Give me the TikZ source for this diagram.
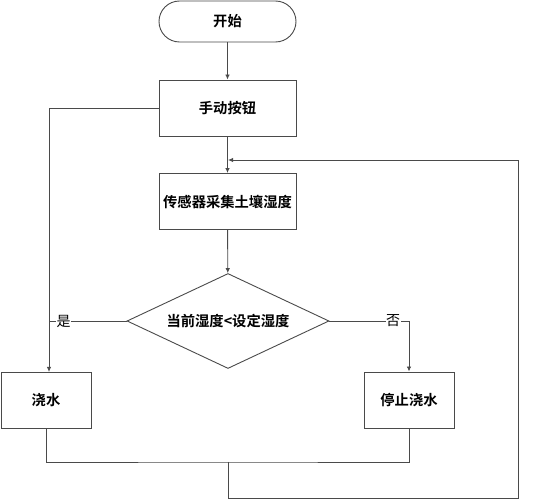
\documentclass[tikz,border=0pt]{standalone}
\usepackage{fontspec}
\setmainfont{Noto Sans CJK SC}[BoldFont={Noto Sans CJK SC Bold}]
\usetikzlibrary{shapes.geometric,arrows.meta,calc}
\definecolor{ln}{HTML}{4A4A4A}
\tikzset{
  box/.style={draw=ln,line width=0.9pt,rectangle,minimum width=137pt,minimum height=56pt,inner sep=0pt,font=\fontsize{14.3}{16}\selectfont\bfseries},
  smallbox/.style={box,minimum width=90pt},
  term/.style={box,rounded corners=20.5pt,minimum height=41pt},
  dec/.style={draw=ln,line width=0.9pt,diamond,minimum width=202pt,minimum height=95pt,inner sep=0pt,font=\fontsize{14.3}{16}\selectfont\bfseries},
  conn/.style={draw=ln,line width=0.9pt},
  arr/.style={conn,-{Latex[length=5pt,width=4.5pt]}},
  lab/.style={fill=white,inner sep=0.5pt,font=\fontsize{14}{16}\selectfont}
}
\begin{document}
\begin{tikzpicture}[x=1pt,y=-1pt]
\useasboundingbox (0,0) rectangle (542,500);
\node[term] (start) at (227.5,21.5) {开始};
\node[box] (btn) at (227.5,108) {手动按钮};
\node[box] (sensor) at (227.5,201.5) {传感器采集土壤湿度};
\node[dec] (dec) at (228,321) {\makebox[0pt]{当前湿度<设定湿度}};
\node[smallbox] (water) at (46,400) {浇水};
\node[smallbox] (stop) at (409,400) {停止浇水};
\coordinate (wl) at (49,108);
\coordinate (wt) at (49,372);
\coordinate (join) at (228,462);
\coordinate (bl) at (228,498);
\coordinate (br) at (518,498);
\coordinate (tr) at (518,160);
\coordinate (loopin) at (228,160);
\draw[arr] (start) -- (btn);
\draw[arr] (btn) -- (sensor);
\draw[arr] (sensor) -- (dec);
\draw[arr] (btn.west) -- (wl) -- (wt);
\draw[conn] (dec.west) -- node[lab,pos=0.81]{是} (dec.west -| wl);
\draw[arr] (dec.east) -| node[lab,pos=0.4]{否} (stop.north);
\draw[conn] (water.south) |- (join) -| (stop.south);
\draw[arr] (join) -- (bl) -- (br) -- (tr) -- (loopin);
\end{tikzpicture}
\end{document}
